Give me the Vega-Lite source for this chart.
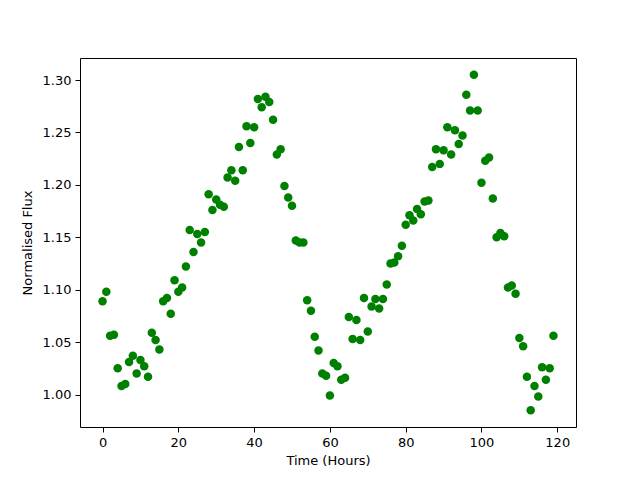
{
  "$schema": "https://vega.github.io/schema/vega-lite/v6.json",
  "width": 496,
  "height": 369,
  "autosize": {"type": "none"},
  "padding": {"left": 80, "top": 58, "right": 64, "bottom": 53},
  "background": "white",
  "config": {
    "view": {"stroke": "black", "strokeWidth": 1},
    "font": "DejaVu Sans",
    "axis": {
      "grid": false,
      "domain": false,
      "tickColor": "black",
      "tickSize": 5,
      "tickWidth": 1,
      "labelColor": "black",
      "labelFont": "DejaVu Sans",
      "labelFontSize": 13,
      "labelPadding": 4,
      "titleFont": "DejaVu Sans",
      "titleFontSize": 13,
      "titleFontWeight": "normal",
      "titleColor": "black"
    }
  },
  "data": {
    "values": [
      {"t": 0, "f": 1.089}, {"t": 1, "f": 1.098}, {"t": 2, "f": 1.056}, {"t": 3, "f": 1.057},
      {"t": 4, "f": 1.025}, {"t": 5, "f": 1.008}, {"t": 6, "f": 1.010}, {"t": 7, "f": 1.031},
      {"t": 8, "f": 1.037}, {"t": 9, "f": 1.020}, {"t": 10, "f": 1.033}, {"t": 11, "f": 1.027},
      {"t": 12, "f": 1.017}, {"t": 13, "f": 1.059}, {"t": 14, "f": 1.052}, {"t": 15, "f": 1.043},
      {"t": 16, "f": 1.089}, {"t": 17, "f": 1.092}, {"t": 18, "f": 1.077}, {"t": 19, "f": 1.109},
      {"t": 20, "f": 1.098}, {"t": 21, "f": 1.102}, {"t": 22, "f": 1.122}, {"t": 23, "f": 1.157},
      {"t": 24, "f": 1.136}, {"t": 25, "f": 1.153}, {"t": 26, "f": 1.145}, {"t": 27, "f": 1.155},
      {"t": 28, "f": 1.191}, {"t": 29, "f": 1.176}, {"t": 30, "f": 1.186}, {"t": 31, "f": 1.181},
      {"t": 32, "f": 1.179}, {"t": 33, "f": 1.207}, {"t": 34, "f": 1.214}, {"t": 35, "f": 1.204},
      {"t": 36, "f": 1.236}, {"t": 37, "f": 1.214}, {"t": 38, "f": 1.256}, {"t": 39, "f": 1.240},
      {"t": 40, "f": 1.255}, {"t": 41, "f": 1.282}, {"t": 42, "f": 1.274}, {"t": 43, "f": 1.284},
      {"t": 44, "f": 1.279}, {"t": 45, "f": 1.262}, {"t": 46, "f": 1.229}, {"t": 47, "f": 1.234},
      {"t": 48, "f": 1.199}, {"t": 49, "f": 1.188}, {"t": 50, "f": 1.180}, {"t": 51, "f": 1.147},
      {"t": 52, "f": 1.145}, {"t": 53, "f": 1.145}, {"t": 54, "f": 1.090}, {"t": 55, "f": 1.080},
      {"t": 56, "f": 1.055}, {"t": 57, "f": 1.042}, {"t": 58, "f": 1.020}, {"t": 59, "f": 1.018},
      {"t": 60, "f": 0.999}, {"t": 61, "f": 1.030}, {"t": 62, "f": 1.027}, {"t": 63, "f": 1.014},
      {"t": 64, "f": 1.016}, {"t": 65, "f": 1.074}, {"t": 66, "f": 1.053}, {"t": 67, "f": 1.071},
      {"t": 68, "f": 1.052}, {"t": 69, "f": 1.092}, {"t": 70, "f": 1.060}, {"t": 71, "f": 1.084},
      {"t": 72, "f": 1.091}, {"t": 73, "f": 1.082}, {"t": 74, "f": 1.091}, {"t": 75, "f": 1.105},
      {"t": 76, "f": 1.125}, {"t": 77, "f": 1.126}, {"t": 78, "f": 1.132}, {"t": 79, "f": 1.142},
      {"t": 80, "f": 1.162}, {"t": 81, "f": 1.171}, {"t": 82, "f": 1.166}, {"t": 83, "f": 1.177},
      {"t": 84, "f": 1.172}, {"t": 85, "f": 1.184}, {"t": 86, "f": 1.185}, {"t": 87, "f": 1.217},
      {"t": 88, "f": 1.234}, {"t": 89, "f": 1.220}, {"t": 90, "f": 1.233}, {"t": 91, "f": 1.255},
      {"t": 92, "f": 1.229}, {"t": 93, "f": 1.252}, {"t": 94, "f": 1.239}, {"t": 95, "f": 1.247},
      {"t": 96, "f": 1.286}, {"t": 97, "f": 1.271}, {"t": 98, "f": 1.305}, {"t": 99, "f": 1.271},
      {"t": 100, "f": 1.202}, {"t": 101, "f": 1.223}, {"t": 102, "f": 1.226}, {"t": 103, "f": 1.187},
      {"t": 104, "f": 1.150}, {"t": 105, "f": 1.154}, {"t": 106, "f": 1.151}, {"t": 107, "f": 1.102},
      {"t": 108, "f": 1.104}, {"t": 109, "f": 1.096}, {"t": 110, "f": 1.054}, {"t": 111, "f": 1.046},
      {"t": 112, "f": 1.017}, {"t": 113, "f": 0.985}, {"t": 114, "f": 1.008}, {"t": 115, "f": 0.998},
      {"t": 116, "f": 1.026}, {"t": 117, "f": 1.014}, {"t": 118, "f": 1.025}, {"t": 119, "f": 1.056}
    ]
  },
  "mark": {"type": "circle", "color": "#008000", "opacity": 1, "size": 72},
  "encoding": {
    "x": {
      "field": "t",
      "type": "quantitative",
      "scale": {"domain": [-5.95, 124.95], "nice": false, "zero": false},
      "axis": {"title": "Time (Hours)", "values": [0, 20, 40, 60, 80, 100, 120], "titlePadding": 5}
    },
    "y": {
      "field": "f",
      "type": "quantitative",
      "scale": {"domain": [0.969, 1.321], "nice": false, "zero": false},
      "axis": {"title": "Normalised Flux", "values": [1.0, 1.05, 1.1, 1.15, 1.2, 1.25, 1.3], "format": ".2f", "titlePadding": 8}
    }
  }
}
